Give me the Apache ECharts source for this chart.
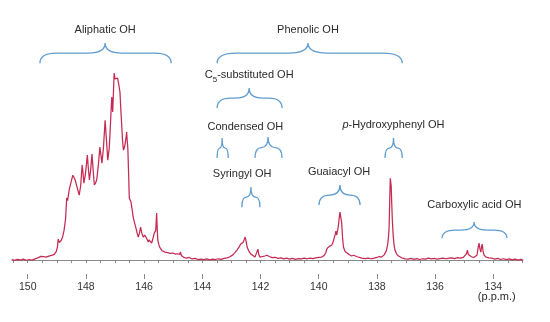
<!DOCTYPE html>
<html>
<head>
<meta charset="utf-8">
<script src="https://cdn.jsdelivr.net/npm/echarts@6/dist/echarts.min.js"></script>
<style>
  html, body { margin: 0; padding: 0; background: #ffffff; }
  #chart { width: 550px; height: 322px; }
</style>
</head>
<body>
<div id="chart"></div>
<script>
// 31P NMR spectrum of phosphitylated lignin hydroxyl groups (chemical shift in p.p.m.)
const ppm = [
  150.55, 150.45, 150.35, 150.25, 150.15, 150.05, 149.95, 149.85, 149.75, 149.65,
  149.55, 149.50, 149.45, 149.38, 149.30, 149.22, 149.15, 149.08, 149.02, 148.98,
  148.95, 148.92, 148.89, 148.85, 148.80, 148.75, 148.70, 148.66, 148.63, 148.60,
  148.57, 148.54, 148.52, 148.45, 148.40, 148.37, 148.30, 148.23, 148.18, 148.13,
  148.10, 148.07, 148.02, 147.95, 147.92, 147.88, 147.84, 147.79, 147.75, 147.71,
  147.67, 147.63, 147.58, 147.52, 147.48, 147.45, 147.40, 147.34, 147.30, 147.25,
  147.20, 147.17, 147.13, 147.11, 147.08, 147.05, 147.03, 147.00, 146.98, 146.95,
  146.91, 146.87, 146.83, 146.80, 146.77, 146.74, 146.71, 146.68, 146.66, 146.62,
  146.60, 146.58, 146.56, 146.53, 146.51, 146.45, 146.37, 146.28, 146.24, 146.20,
  146.16, 146.12, 146.08, 146.03, 145.98, 145.93, 145.89, 145.86, 145.83, 145.80,
  145.77, 145.74, 145.69, 145.65, 145.60, 145.57, 145.55, 145.53, 145.49, 145.45,
  145.38, 145.28, 145.20, 145.10, 145.01, 144.92, 144.85, 144.78, 144.75, 144.72,
  144.65, 144.55, 144.45, 144.35, 144.25, 144.15, 144.05, 143.95, 143.85, 143.75,
  143.65, 143.55, 143.45, 143.35, 143.25, 143.15, 143.05, 142.95, 142.88, 142.81,
  142.74, 142.68, 142.64, 142.60, 142.56, 142.53, 142.50, 142.46, 142.40, 142.33,
  142.26, 142.19, 142.13, 142.09, 142.06, 142.02, 141.95, 141.85, 141.78, 141.70,
  141.60, 141.50, 141.40, 141.30, 141.20, 141.10, 141.00, 140.90, 140.80, 140.70,
  140.60, 140.50, 140.40, 140.30, 140.20, 140.10, 140.00, 139.90, 139.82, 139.76,
  139.73, 139.70, 139.67, 139.65, 139.62, 139.58, 139.55, 139.50, 139.46, 139.43,
  139.41, 139.38, 139.36, 139.33, 139.30, 139.27, 139.24, 139.21, 139.18, 139.15,
  139.10, 139.04, 138.96, 138.87, 138.80, 138.75, 138.68, 138.60, 138.52, 138.40,
  138.30, 138.20, 138.10, 138.00, 137.92, 137.84, 137.75, 137.68, 137.63, 137.60,
  137.58, 137.56, 137.54, 137.53, 137.51, 137.49, 137.47, 137.44, 137.41, 137.38,
  137.33, 137.27, 137.21, 137.12, 137.03, 136.93, 136.83, 136.73, 136.63, 136.53,
  136.43, 136.33, 136.23, 136.13, 136.03, 135.93, 135.83, 135.73, 135.63, 135.53,
  135.43, 135.33, 135.23, 135.13, 135.03, 134.97, 134.92, 134.89, 134.86, 134.82,
  134.75, 134.68, 134.63, 134.56, 134.52, 134.49, 134.46, 134.43, 134.40, 134.38,
  134.35, 134.32, 134.25, 134.15, 134.06, 133.95, 133.85, 133.75, 133.65, 133.55,
  133.45, 133.35, 133.25, 133.15, 133.05, 132.98
];
const intensity = [
  0.3, -0.2, 0.4, 0.0, 0.5, -0.1, 0.3, 0.0, 0.6, 1.2,
  2.0, 2.6, 1.8, 1.6, 2.0, 2.4, 2.6, 3.2, 4.5, 7.0,
  11.3, 9.5, 8.6, 10.5, 12.5, 16.1, 22.0, 33.4, 32.0, 32.3,
  38.2, 37.5, 38.0, 45.7, 44.2, 43.1, 39.0, 35.0, 40.0, 51.1,
  47.0, 41.4, 46.0, 56.5, 50.0, 43.1, 48.0, 57.1, 48.0, 40.4,
  41.5, 43.1, 50.0, 60.8, 56.0, 52.2, 60.0, 75.3, 66.0, 53.8,
  60.0, 68.9, 82.0, 87.7, 79.7, 92.0, 100.6, 97.5, 96.9, 98.5,
  98.0, 94.5, 90.4, 81.0, 72.7, 64.0, 59.2, 60.5, 61.9, 66.0,
  68.9, 64.0, 60.3, 45.0, 33.4, 31.2, 22.6, 17.2, 14.5, 12.4,
  14.5, 17.8, 14.5, 12.4, 13.5, 13.5, 11.0, 9.7, 10.8, 11.8,
  10.0, 9.1, 12.0, 14.5, 16.0, 25.3, 17.0, 10.8, 8.0, 6.5,
  5.0, 4.3, 4.0, 3.6, 3.8, 3.2, 3.4, 3.0, 4.3, 2.5,
  1.6, 1.0, 1.4, 0.6, 0.9, 0.3, 0.5, 0.2, 0.6, 0.1,
  0.5, 0.3, 0.7, 0.4, 0.9, 1.2, 1.8, 2.8, 4.0, 5.4,
  7.0, 8.6, 8.1, 9.5, 11.0, 12.4, 10.5, 7.0, 4.8, 3.2,
  2.4, 1.6, 2.2, 5.9, 3.0, 1.6, 1.8, 2.2, 2.6, 1.9,
  1.3, 1.5, 0.9, 1.2, 0.6, 1.0, 0.5, 0.9, 0.4, 0.8,
  0.6, 1.0, 0.7, 1.1, 0.8, 1.2, 1.4, 1.6, 2.4, 3.8,
  5.4, 6.5, 7.0, 7.2, 7.5, 8.0, 8.1, 10.0, 12.4, 14.0,
  15.6, 13.5, 13.8, 17.8, 22.0, 25.8, 23.0, 19.9, 12.0, 7.0,
  4.8, 3.8, 3.0, 2.2, 2.6, 2.7, 1.8, 1.4, 1.1, 0.8,
  1.1, 0.7, 1.0, 1.4, 1.9, 1.6, 2.8, 4.8, 8.5, 13.0,
  17.8, 32.0, 44.0, 44.7, 40.0, 30.0, 21.5, 13.0, 8.0, 5.4,
  3.5, 2.3, 1.6, 1.0, 0.6, 0.5, 0.9, 0.4, 0.8, 0.3,
  0.7, 0.5, 1.0, 0.6, 0.9, 0.5, 0.8, 1.1, 0.7, 1.0,
  1.2, 0.8, 1.3, 1.0, 1.4, 1.6, 3.5, 5.4, 3.0, 2.2,
  1.8, 1.4, 1.6, 2.6, 7.0, 9.1, 6.0, 4.3, 7.5, 8.6,
  4.5, 2.7, 1.6, 1.2, 1.1, 0.5, 0.9, 0.3, 0.7, 0.2,
  0.6, 0.1, 0.5, 0.0, 0.4, 0.0
];

// Axis ticks and labels (p.p.m.)
const minorTicks = [];
for (let v = 133; v <= 150.5; v += 0.5) minorTicks.push(v);
const tickLabels = [150, 148, 146, 144, 142, 140, 138, 136, 134];

// Curly brackets grouping the shift ranges
const braceFrom = [149.58, 143.49, 143.49, 143.49, 142.19, 142.64, 139.99, 137.72, 135.76];
const braceTo   = [145.07, 137.13, 141.26, 143.11, 141.26, 142.02, 138.58, 137.13, 133.53];
const braceTip  = [147.34, 140.37, 142.39, 143.32, 141.74, 142.33, 139.27, 137.43, 134.66];
const braceFoot = [106.0, 106.0, 81.8, 54.9, 54.9, 28.5, 29.6, 54.9, 11.8];
const braceTop  = [116.8, 116.8, 92.6, 65.7, 66.2, 39.3, 40.4, 65.7, 20.5];

// Group names
const noteText = [
  'Aliphatic OH', 'Phenolic OH', 'C{sub|5}-substituted OH', 'Condensed OH',
  'Syringyl OH', 'Guaiacyl OH', '{it|p}-Hydroxyphenyl OH', 'Carboxylic acid OH', '(p.p.m.)'
];
const notePpm   = [147.34, 140.37, 142.39, 142.52, 142.63, 139.30, 137.43, 134.65, 133.88];
const noteLevel = [123.8, 123.8, 99.6, 71.6, 46.3, 47.2, 72.7, 29.6, -19.9];

const FONT = "'Liberation Sans', Arial, Helvetica, sans-serif";
const TEXT_COLOR = '#2a2a2a';
const BRACE_COLOR = '#5f9dd0';

const spectrum = ppm.map((p, i) => [p, intensity[i]]);
const braces = braceFrom.map((a, i) => [a, braceTo[i], braceTip[i], braceFoot[i], braceTop[i]]);
const notes = noteText.map((t, i) => [notePpm[i], noteLevel[i], t]);

// Horizontal curly bracket: feet at both ends, point in the middle
function renderBrace(params, api) {
  const a = api.coord([api.value(0), api.value(3)]);
  const b = api.coord([api.value(1), api.value(3)]);
  const t = api.coord([api.value(2), api.value(4)]);
  const L = Math.min(a[0], b[0]);
  const R = Math.max(a[0], b[0]);
  const yE = a[1];
  const yT = t[1];
  const yM = (yE + yT) / 2;
  const xT = t[0];
  const hL = xT - L, hR = R - xT;
  const rL = Math.min(hL / 2, 10 + hL * 0.1);
  const rR = Math.min(hR / 2, 10 + hR * 0.1);
  const d = [
    'M', L, yE,
    'Q', L, yM, L + rL, yM,
    'L', xT - rL, yM,
    'Q', xT, yM, xT, yT,
    'Q', xT, yM, xT + rR, yM,
    'L', R - rR, yM,
    'Q', R, yM, R, yE
  ].join(' ');
  return {
    type: 'path',
    shape: { pathData: d },
    style: { stroke: BRACE_COLOR, fill: null, lineWidth: 1.3 }
  };
}

function renderNote(params, api) {
  const p = api.coord([api.value(0), api.value(1)]);
  const text = noteText[params.dataIndex];
  return {
    type: 'text',
    x: p[0],
    y: p[1],
    style: {
      text: text,
      fill: TEXT_COLOR,
      fontFamily: FONT,
      fontSize: 11,
      align: 'center',
      verticalAlign: 'middle',
      lineHeight: 17,
      rich: {
        sub: { fontSize: 8, fontFamily: FONT, fill: TEXT_COLOR, verticalAlign: 'bottom', lineHeight: 9 },
        it: { fontSize: 11, fontFamily: FONT, fill: TEXT_COLOR, fontStyle: 'italic' }
      }
    }
  };
}

const chart = echarts.init(document.getElementById('chart'), null, { renderer: 'canvas' });
const xRange = { min: 132.98, max: 150.54 };
chart.setOption({
  animation: false,
  backgroundColor: '#ffffff',
  grid: { left: 12, right: 27, top: 0, bottom: 48, containLabel: false },
  xAxis: [
    {
      type: 'value', inverse: true, min: xRange.min, max: xRange.max, position: 'bottom',
      axisLine: { show: true, lineStyle: { color: '#8a8a8a', width: 1 } },
      axisTick: { show: true, inside: false, length: 3, customValues: minorTicks, lineStyle: { color: '#8a8a8a' } },
      axisLabel: { show: false },
      splitLine: { show: false }
    },
    {
      type: 'value', inverse: true, min: xRange.min, max: xRange.max, position: 'bottom',
      axisLine: { show: false },
      axisTick: { show: true, inside: false, length: 5, customValues: tickLabels, lineStyle: { color: '#8a8a8a' } },
      axisLabel: {
        show: true, customValues: tickLabels, margin: 8,
        color: '#333333', fontSize: 10.5, fontFamily: FONT
      },
      splitLine: { show: false }
    }
  ],
  yAxis: { type: 'value', min: -7.5, max: 140, show: false },
  series: [
    {
      type: 'line', xAxisIndex: 0, data: spectrum, showSymbol: false, smooth: false,
      lineStyle: { color: '#c52a52', width: 1.25 }, silent: true
    },
    {
      type: 'custom', xAxisIndex: 0, data: braces, renderItem: renderBrace, silent: true, clip: false
    },
    {
      type: 'custom', xAxisIndex: 0, data: notes, renderItem: renderNote, silent: true, clip: false,
      encode: { x: 0, y: 1 }
    }
  ]
});
</script>
</body>
</html>
